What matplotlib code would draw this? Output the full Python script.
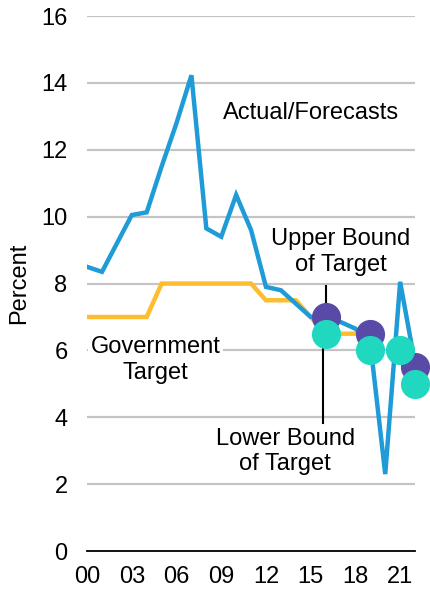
import numpy as np
import matplotlib
matplotlib.use('Agg')
import matplotlib.pyplot as plt

plt.rcParams['font.family'] = ['Liberation Sans', 'DejaVu Sans']

# data
years = list(range(2000, 2023))
actual = [8.5, 8.35, 9.2, 10.05, 10.13, 11.5, 12.8, 14.23, 9.65, 9.4, 10.65, 9.6,
          7.9, 7.8, 7.4, 7.0, 7.0, 6.85, 6.65, 6.2, 2.3, 8.05, 5.6]
target_years = list(range(2000, 2020))
target = [7.0, 7.0, 7.0, 7.0, 7.0, 8.0, 8.0, 8.0, 8.0, 8.0, 8.0, 8.0,
          7.5, 7.5, 7.5, 7.0, 6.5, 6.5, 6.5, 6.5]
upper_years = [2016, 2019, 2022]
upper = [7.0, 6.5, 5.5]
lower_years = [2016, 2019, 2021, 2022]
lower = [6.5, 6.0, 6.0, 5.0]
xticks = [2000, 2003, 2006, 2009, 2012, 2015, 2018, 2021]
xticklabels = ['00', '03', '06', '09', '12', '15', '18', '21']
yticks = [0, 2, 4, 6, 8, 10, 12, 14, 16]

blue = '#1f9bd7'
orange = '#fdbd2e'
purple = '#5a4aa8'
teal = '#1fd8bf'
fs = 17

fig = plt.figure(figsize=(4.31, 5.96), dpi=100)
ax = fig.add_axes([0.202, 0.0755, 0.761, 0.8975])

for y in yticks[1:]:
    ax.axhline(y, color='#c4c4c4', lw=1.6, zorder=0)

ax.plot(target_years, target, color=orange, lw=3.2, zorder=2, solid_joinstyle='miter')
ax.plot(years, actual, color=blue, lw=3.2, zorder=3, solid_joinstyle='miter')

# leader lines to the 2016 bounds
ax.plot([2016, 2016], [7.0, 7.92], color='black', lw=1.5, zorder=3.5)
ax.plot([2015.85, 2015.85], [6.5, 3.83], color='black', lw=1.5, zorder=3.5)

ax.plot(upper_years, upper, 'o', color=purple, ms=21, mew=0, zorder=4, clip_on=False)
ax.plot(lower_years, lower, 'o', color=teal, ms=21, mew=0, zorder=5, clip_on=False)

ax.text(2015.0, 13.1, 'Actual/Forecasts', fontsize=fs, ha='center', va='center')
ax.text(2017.0, 8.94, 'Upper Bound\nof Target', fontsize=fs, ha='center', va='center',
        linespacing=1.2)
ax.text(2004.6, 5.71, 'Government\nTarget', fontsize=fs, ha='center', va='center',
        linespacing=1.2, zorder=6,
        bbox=dict(facecolor='white', edgecolor='none', pad=2))
ax.text(2013.3, 2.97, 'Lower Bound\nof Target', fontsize=fs, ha='center', va='center',
        linespacing=1.2)

ax.set_xlim(2000, 2022)
ax.set_ylim(0, 16)
ax.set_xticks(xticks)
ax.set_xticklabels(xticklabels)
ax.set_yticks(yticks)
ax.tick_params(axis='both', length=0, labelsize=fs)
ax.tick_params(axis='y', pad=14)
ax.tick_params(axis='x', pad=11)
for s in ['left', 'right', 'top']:
    ax.spines[s].set_visible(False)
ax.spines['bottom'].set_color('black')
ax.spines['bottom'].set_linewidth(1.3)
ax.set_ylabel('Percent', fontsize=fs, labelpad=8)
ax.patch.set_alpha(0)

fig.savefig('out.png', dpi=100)
